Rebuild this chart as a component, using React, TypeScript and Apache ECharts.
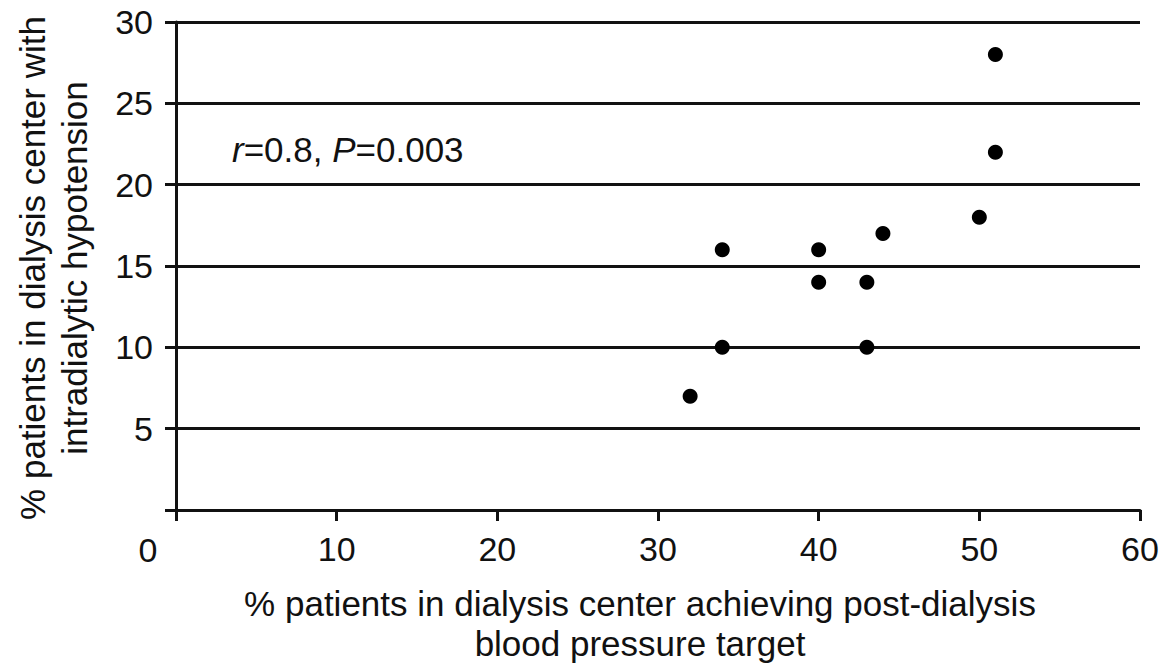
import React, { useEffect, useRef } from "react";
import * as echarts from "echarts";

const xValues = [32, 34, 34, 40, 40, 43, 43, 44, 50, 51, 51];
const yValues = [7, 16, 10, 16, 14, 14, 10, 17, 18, 28, 22];
const xTitleLines = [
  "% patients in dialysis center achieving post-dialysis",
  "blood pressure target",
];
const yTitleLines = [
  "% patients in dialysis center with",
  "intradialytic hypotension",
];
const FONT = "'Liberation Sans', Arial, Helvetica, sans-serif";

export default function App() {
  const ref = useRef<HTMLDivElement>(null);
  useEffect(() => {
    document.body.style.margin = "0";
    const chart = echarts.init(ref.current!, null, { renderer: "svg" });
    const ink = "#111";
    chart.setOption({
      animation: false,
      backgroundColor: "#fff",
      grid: { left: 176, right: 27, top: 22, bottom: 159, containLabel: false },
      xAxis: {
        type: "value",
        min: 0,
        max: 60,
        interval: 10,
        axisLine: { show: true, onZero: false, lineStyle: { color: ink, width: 3 } },
        axisTick: { show: true, inside: false, length: 11, lineStyle: { color: ink, width: 3 } },
        axisLabel: {
          color: ink,
          fontSize: 34,
          fontFamily: FONT,
          margin: 22,
          formatter: (v: number) => (v === 0 ? "" : String(v)),
        },
        splitLine: { show: false },
      },
      yAxis: {
        type: "value",
        min: 0,
        max: 30,
        interval: 5,
        axisLine: { show: true, onZero: false, lineStyle: { color: ink, width: 3 } },
        axisTick: { show: true, inside: false, length: 11, lineStyle: { color: ink, width: 3 } },
        axisLabel: {
          color: ink,
          fontSize: 34,
          fontFamily: FONT,
          margin: 23,
          formatter: (v: number) => (v === 0 ? "" : String(v)),
        },
        splitLine: { show: true, lineStyle: { color: ink, width: 3 } },
      },
      series: [
        {
          type: "scatter",
          data: xValues.map((x, i) => [x, yValues[i]]),
          symbol: "circle",
          symbolSize: 15,
          itemStyle: { color: "#000", opacity: 1 },
          z: 5,
        },
      ],
      graphic: [
        {
          type: "text",
          x: 148,
          y: 550,
          style: {
            text: "0",
            font: `34px ${FONT}`,
            fill: ink,
            textAlign: "center",
            textVerticalAlign: "middle",
          },
        },
        {
          type: "text",
          x: 232,
          y: 149,
          style: {
            text: "{i|r}=0.8, {i|P}=0.003",
            font: `35px ${FONT}`,
            fill: ink,
            textAlign: "left",
            textVerticalAlign: "middle",
            rich: {
              i: { fontStyle: "italic", fontSize: 35, fontFamily: FONT, fill: ink },
            },
          },
        },
        ...xTitleLines.map((t, i) => ({
          type: "text",
          x: 640,
          y: 603 + i * 40,
          style: {
            text: t,
            font: `35px ${FONT}`,
            fill: ink,
            textAlign: "center",
            textVerticalAlign: "middle",
          },
        })),
        ...yTitleLines.map((t, i) => ({
          type: "text",
          x: 32 + i * 42,
          y: 268,
          rotation: Math.PI / 2,
          style: {
            text: t,
            font: `35px ${FONT}`,
            fill: ink,
            textAlign: "center",
            textVerticalAlign: "middle",
          },
        })),
      ],
    });
    return () => chart.dispose();
  }, []);
  return <div ref={ref} style={{ width: 1167, height: 669 }} />;
}
